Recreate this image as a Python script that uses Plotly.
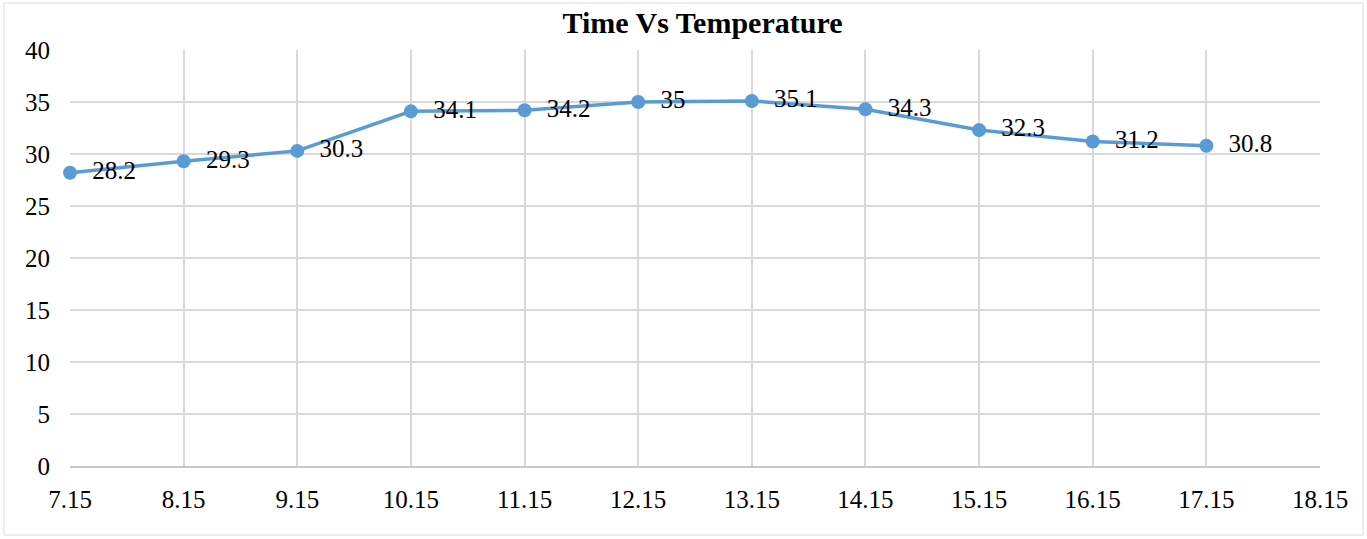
import plotly.graph_objects as go

times = [7.15, 8.15, 9.15, 10.15, 11.15, 12.15, 13.15, 14.15, 15.15, 16.15, 17.15]
temps = [28.2, 29.3, 30.3, 34.1, 34.2, 35.0, 35.1, 34.3, 32.3, 31.2, 30.8]
x_ticks = [7.15, 8.15, 9.15, 10.15, 11.15, 12.15, 13.15, 14.15, 15.15, 16.15, 17.15, 18.15]
x_tick_text = ["7.15", "8.15", "9.15", "10.15", "11.15", "12.15", "13.15", "14.15", "15.15", "16.15", "17.15", "18.15"]
y_ticks = [0, 5, 10, 15, 20, 25, 30, 35, 40]
labels = ["28.2", "29.3", "30.3", "34.1", "34.2", "35", "35.1", "34.3", "32.3", "31.2", "30.8"]

FONT = "Liberation Serif"
W, H = 1367, 539
L, R, T, B = 70, 47, 50, 73

fig = go.Figure()
fig.add_trace(go.Scatter(
    x=times, y=temps, mode="lines+markers+text",
    text=["  " + s for s in labels], textposition="middle right",
    textfont=dict(family=FONT, size=25, color="#000000"),
    line=dict(color="#5b9bd5", width=3.5),
    marker=dict(color="#5b9bd5", size=14),
    cliponaxis=False, showlegend=False, hoverinfo="skip",
))

pw = W - L - R
ph = H - T - B
def px(x):
    return (x - L) / pw
def py(y):
    return (H - B - y) / ph

fig.update_layout(
    width=W, height=H,
    margin=dict(l=L, r=R, t=T, b=B, autoexpand=False),
    paper_bgcolor="white", plot_bgcolor="white",
    title=dict(text="<b>Time Vs Temperature</b>", x=702.5 / W, xanchor="center",
               xref="container",
               y=1 - 22 / H, yanchor="middle", yref="container",
               font=dict(family=FONT, size=30, color="#000000")),
    font=dict(family=FONT, size=25, color="#000000"),
    xaxis=dict(range=[7.15, 18.15], tickvals=x_ticks, ticktext=x_tick_text,
               showgrid=True, gridcolor="#d9d9d9", gridwidth=1.5,
               showline=True, linecolor="#c8c8c8", linewidth=1.5,
               zeroline=False, ticks="", ticklabelstandoff=10,
               tickfont=dict(family=FONT, size=25, color="#000000")),
    yaxis=dict(range=[0, 40], tickvals=y_ticks,
               showgrid=True, gridcolor="#d9d9d9", gridwidth=1.5,
               showline=False, zeroline=False, ticks="", ticklabelstandoff=19,
               tickfont=dict(family=FONT, size=25, color="#000000")),
    shapes=[dict(type="rect", xref="paper", yref="paper",
                 x0=px(4), x1=px(1363), y0=py(535), y1=py(3),
                 line=dict(color="#d9d9d9", width=1), fillcolor="rgba(0,0,0,0)",
                 layer="below")],
)

fig.write_html("out.html")
